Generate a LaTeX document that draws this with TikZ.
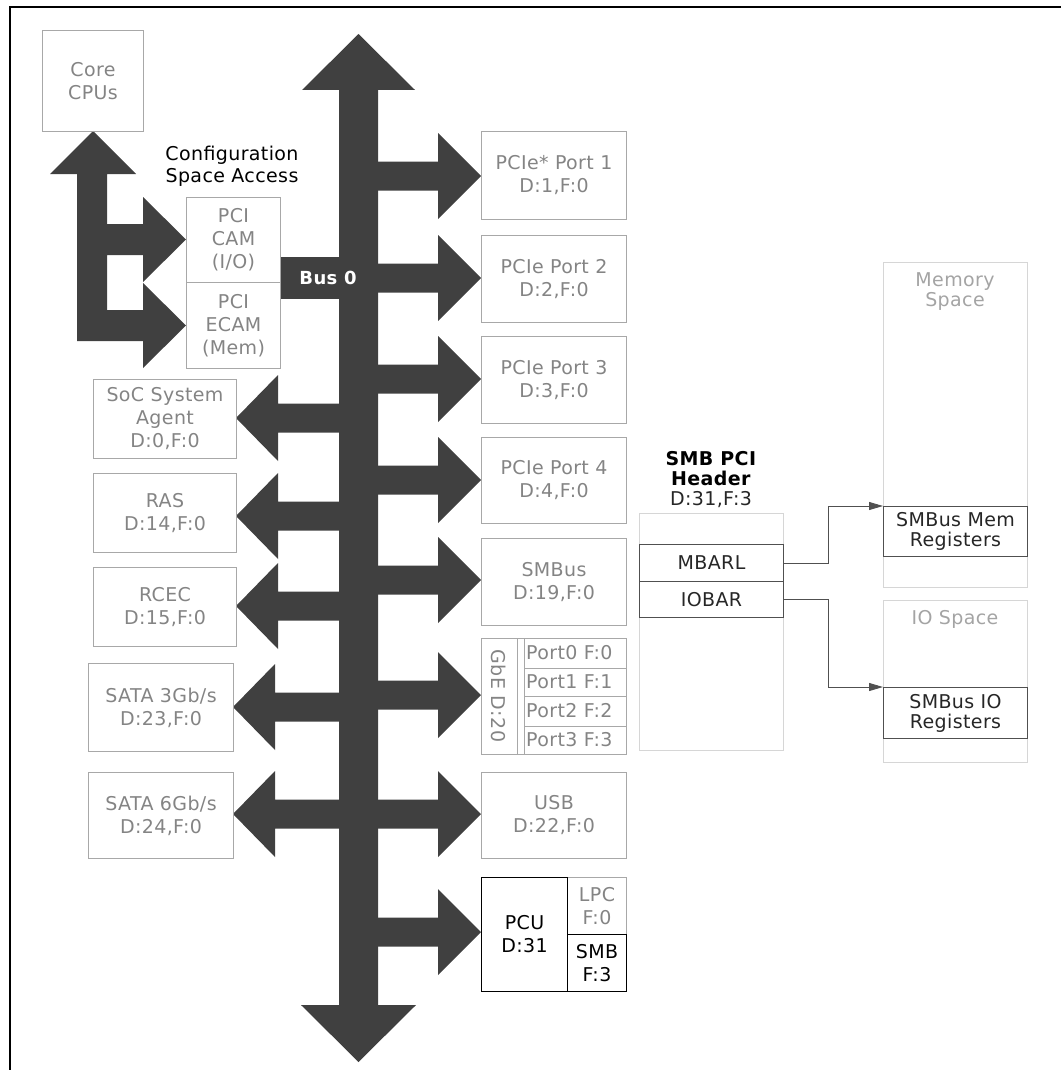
\documentclass[tikz,border=0pt]{standalone}
\usepackage{fontspec}
\setmainfont{DejaVu Sans}[LetterSpace=2]
\usetikzlibrary{arrows.meta}
\definecolor{bus}{HTML}{404040}
\definecolor{bxline}{HTML}{A8A8A8}
\definecolor{bxtext}{HTML}{848484}
\definecolor{ltline}{HTML}{D6D6D6}
\definecolor{ltext}{HTML}{A4A4A4}
\definecolor{dkline}{HTML}{505050}
\definecolor{dktext}{HTML}{262626}
\tikzset{
  txt/.style={font=\fontsize{19pt}{23pt}\selectfont, align=center, inner sep=0pt},
  gbox/.style={txt, draw=bxline, line width=1pt, text=bxtext, anchor=north west},
  kbox/.style={txt, draw=black, line width=1pt, text=black, anchor=north west},
  lbox/.style={txt, draw=ltline, line width=1pt, anchor=north west},
  dbox/.style={txt, draw=dkline, line width=1pt, text=dktext, anchor=north west, font=\fontsize{19pt}{20pt}\selectfont},
  sz/.style 2 args={minimum width=#1pt, minimum height=#2pt},
  conn/.style={draw=dkline, line width=0.9pt, -{Triangle[length=14pt,width=8pt]}},
}
\begin{document}
\begin{tikzpicture}[x=1pt,y=-1pt]
\useasboundingbox (0,0) rectangle (1061,1070);
% frame
\draw[line width=1.6pt] (10,1070) -- (10,7) -- (1061,7);

% main bus
\fill[bus] (339,90) -- (302,90) -- (358.5,34) -- (415,90) -- (378,90) -- (378,1005) -- (416,1005) -- (358.5,1062) -- (301,1005) -- (339,1005) -- cycle;
% right branches
\foreach \c in {176,278,379,480,580,695,814,932}{
  \fill[bus] (370,\c-14.5) -- (438,\c-14.5) -- (438,\c-43) -- (481,\c) -- (438,\c+43) -- (438,\c+14.5) -- (370,\c+14.5) -- cycle;
}
% left branches
\foreach \c/\t in {418/236,516/236,606/236,707/233,814/233}{
  \fill[bus] (347,\c-14.5) -- (\t+42,\c-14.5) -- (\t+42,\c-43) -- (\t,\c) -- (\t+42,\c+43) -- (\t+42,\c+14.5) -- (347,\c+14.5) -- cycle;
}
% Bus 0 bar
\fill[bus] (280,257) rectangle (345,299);
\node[font=\fontsize{18pt}{20pt}\selectfont\bfseries, text=white, inner sep=0pt] (bus0) at (328,278) {Bus 0};

% CPU access arrow
\fill[bus] (77,174) -- (50,174) -- (93,131) -- (136,174) -- (107,174) -- (107,224) -- (143,224) -- (143,197) -- (186,239.5) -- (143,282) -- (143,255) -- (107,255) -- (107,310) -- (143,310) -- (143,283) -- (186,325.5) -- (143,368) -- (143,341) -- (77,341) -- cycle;

% left column
\node[gbox, sz={101}{101}] (core) at (42,30) {Core\\CPUs};
\node[txt, text=black, font=\fontsize{19pt}{22pt}\selectfont] (cfg) at (232,166) {Configuration\\Space Access};
\node[gbox, sz={94}{85}] (cam) at (186,197) {PCI\\CAM\\(I/O)};
\node[gbox, sz={94}{86}] (ecam) at (186,282) {PCI\\ECAM\\(Mem)};
\node[gbox, sz={143}{79}] (soc) at (93,379) {SoC System\\Agent\\D:0,F:0};
\node[gbox, sz={143}{79}] (ras) at (93,473) {RAS\\D:14,F:0};
\node[gbox, sz={143}{79}] (rcec) at (93,567) {RCEC\\D:15,F:0};
\node[gbox, sz={145}{88}] (sata3) at (88,663) {SATA 3Gb/s\\D:23,F:0};
\node[gbox, sz={145}{86}] (sata6) at (88,772) {SATA 6Gb/s\\D:24,F:0};

% right column
\node[gbox, sz={145}{88}] (p1) at (481,131) {PCIe* Port 1\\D:1,F:0};
\node[gbox, sz={145}{87}] (p2) at (481,235) {PCIe Port 2\\D:2,F:0};
\node[gbox, sz={145}{87}] (p3) at (481,336) {PCIe Port 3\\D:3,F:0};
\node[gbox, sz={145}{86}] (p4) at (481,437) {PCIe Port 4\\D:4,F:0};
\node[gbox, sz={145}{87}] (smbus) at (481,538) {SMBus\\D:19,F:0};

% GbE
\node[gbox, sz={145}{116}] (gbe) at (481,638) {};
\draw[bxline, line width=1pt] (517,638) -- (517,754) (524,638) -- (524,754);
\draw[bxline, line width=1pt] (524,668) -- (626,668) (524,696) -- (626,696) (524,726) -- (626,726);
\node[txt, text=bxtext, rotate=-90] (gbel) at (499,696) {GbE D:20};
\node[txt, text=bxtext, anchor=west] (port0) at (526,653) {Port0 F:0};
\node[txt, text=bxtext, anchor=west] (port1) at (526,682) {Port1 F:1};
\node[txt, text=bxtext, anchor=west] (port2) at (526,711) {Port2 F:2};
\node[txt, text=bxtext, anchor=west] (port3) at (526,740) {Port3 F:3};

\node[gbox, sz={145}{86}] (usb) at (481,772) {USB\\D:22,F:0};

% PCU
\node[gbox, sz={59}{57}] (lpc) at (567,877) {LPC\\F:0};
\node[kbox, sz={86}{114}] (pcu) at (481,877) {PCU\\D:31};
\node[kbox, sz={59}{57}] (smb) at (567,934) {SMB\\F:3};

% SMB PCI header
\node[txt, text=black, font=\fontsize{19pt}{20pt}\selectfont] (hdrt) at (711,480) {\textbf{SMB PCI}\\\textbf{Header}\\\textcolor{dktext}{D:31,F:3}};
\node[lbox, sz={144}{237}] (hdr) at (639,513) {};
\node[dbox, sz={144}{37}] (mbarl) at (639,544) {MBARL};
\node[dbox, sz={144}{36}] (iobar) at (639,581) {IOBAR};

% memory / IO spaces
\node[lbox, sz={144}{325}] (mem) at (883,262) {};
\node[txt, text=ltext, font=\fontsize{19pt}{20pt}\selectfont] (meml) at (955,292) {Memory\\Space};
\node[dbox, sz={144}{50}] (memreg) at (883,506) {SMBus Mem\\Registers};
\node[lbox, sz={144}{162}] (io) at (883,600) {};
\node[txt, text=ltext] (iol) at (955,619) {IO Space};
\node[dbox, sz={144}{51}] (ioreg) at (883,687) {SMBus IO\\Registers};

% connectors
\draw[conn] (mbarl.east) -- ++(44,0) |- (memreg.north west);
\draw[conn] (iobar.east) -- ++(44,0) |- (ioreg.north west);
\end{tikzpicture}
\end{document}
